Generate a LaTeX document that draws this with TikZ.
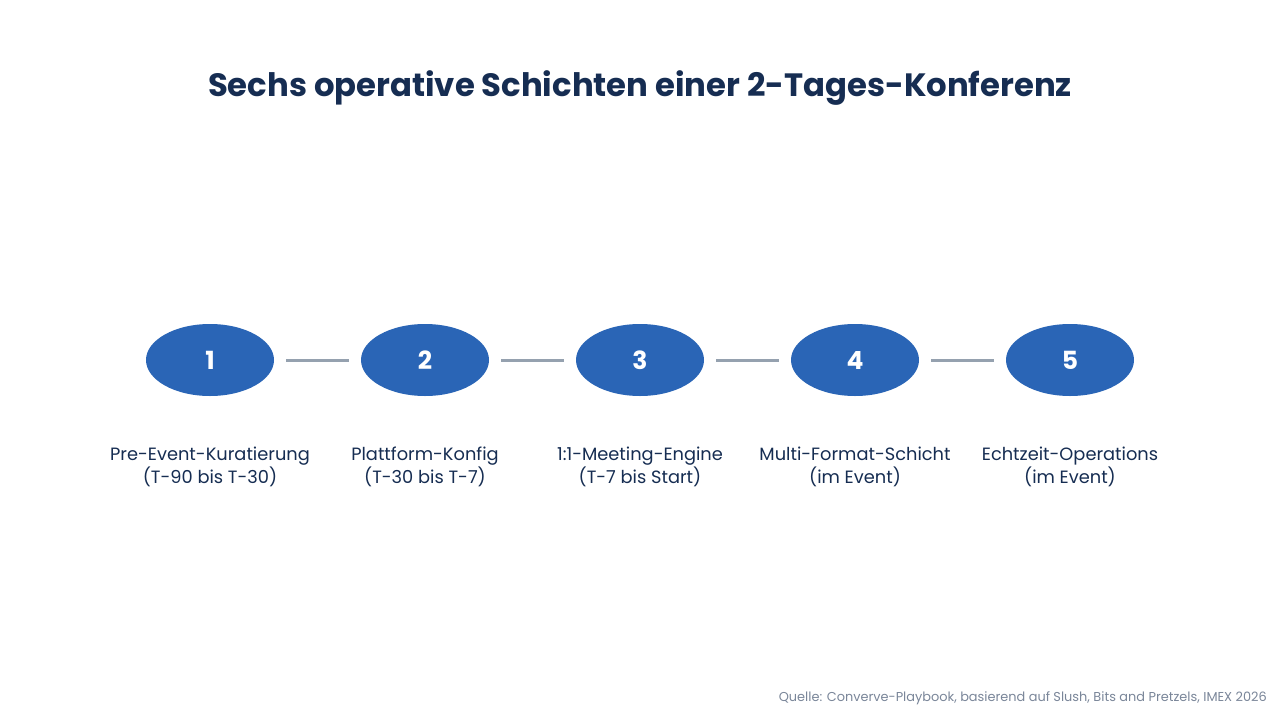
\documentclass[tikz,border=0pt]{standalone}
\usepackage{fontspec}
\setmainfont{Poppins}
\usetikzlibrary{shapes.geometric}
\definecolor{navy}{HTML}{162D52}
\definecolor{stepblue}{HTML}{2A65B6}
\definecolor{linkgray}{HTML}{95A1AF}
\definecolor{srcgray}{HTML}{7A8699}
\tikzset{
  stepnode/.style={ellipse, fill=stepblue, minimum width=128pt, minimum height=72pt, inner sep=0pt,
    text=white, font=\fontsize{25}{28}\selectfont\bfseries},
  link/.style={draw=linkgray, line width=3pt},
  steplabel/.style={align=center, text=navy, font=\fontsize{17.8}{23}\selectfont, anchor=north},
}
\begin{document}
\begin{tikzpicture}[x=1pt,y=-1pt]
\useasboundingbox[fill=white] (0,0) rectangle (1280,720);
\node[text=navy, font=\fontsize{32.3}{38}\selectfont\bfseries] (title) at (640,88) {Sechs operative Schichten einer 2-Tages-Konferenz};
\foreach \i/\x/\a/\b in {1/210/Pre-Event-Kuratierung/(T-90 bis T-30),
                         2/425/Plattform-Konfig/(T-30 bis T-7),
                         3/640/1:1-Meeting-Engine/(T-7 bis Start),
                         4/855/Multi-Format-Schicht/(im Event),
                         5/1070/Echtzeit-Operations/(im Event)}{
  \node[stepnode] (n\i) at (\x,360) {\i};
  \node[steplabel] (l\i) at (\x,443) {\a\\\b};
}
\foreach \i/\j in {1/2,2/3,3/4,4/5}{
  \draw[link] ([xshift=12pt]n\i.east) -- ([xshift=-12pt]n\j.west);
}
\node[anchor=east, inner sep=0pt, text=srcgray, font=\fontsize{12.9}{14}\selectfont] (src) at (1267,698) {Quelle: Converve-Playbook, basierend auf Slush, Bits and Pretzels, IMEX 2026};
\end{tikzpicture}
\end{document}
